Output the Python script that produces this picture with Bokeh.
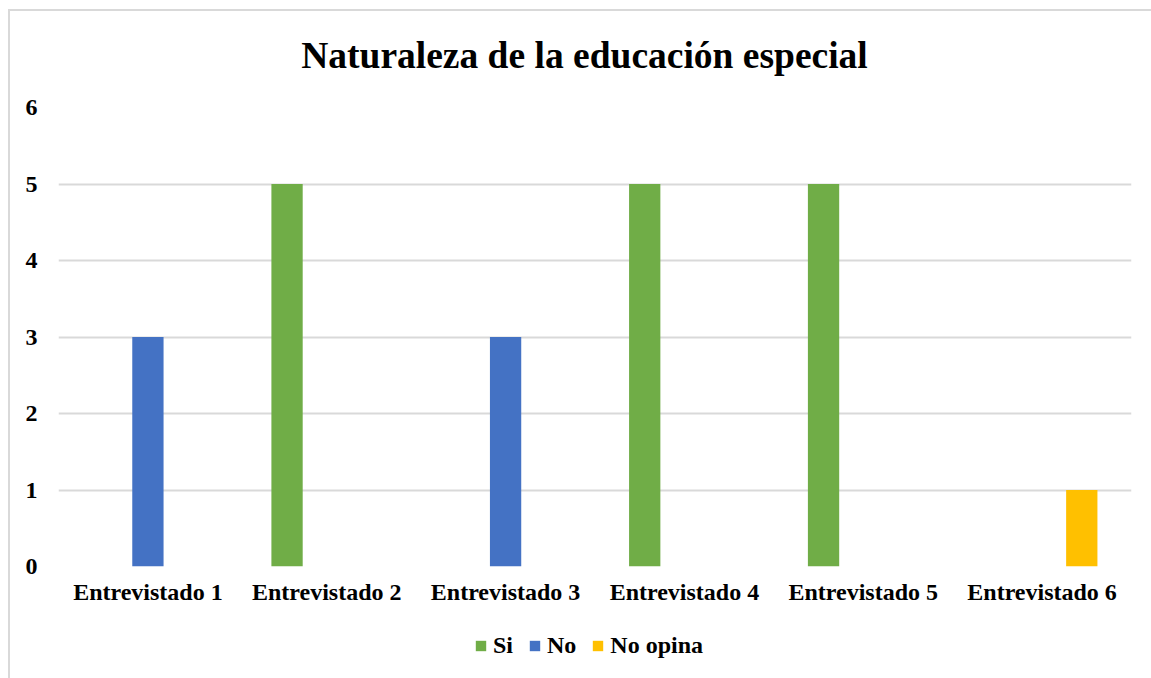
from bokeh.plotting import figure
from bokeh.models import FactorRange, Range1d, FixedTicker, Legend, LegendItem, Label
from bokeh.layouts import column
from bokeh.transform import dodge
from bokeh.embed import file_html
from bokeh.resources import INLINE

title_text = "Naturaleza de la educación especial"
categories = ["Entrevistado 1", "Entrevistado 2", "Entrevistado 3",
              "Entrevistado 4", "Entrevistado 5", "Entrevistado 6"]
si = [0, 5, 0, 5, 5, 0]
no = [3, 0, 3, 0, 0, 0]
no_opina = [0, 0, 0, 0, 0, 1]
y_ticks = [0, 1, 2, 3, 4, 5, 6]

series_names = ["Si", "No", "No opina"]
colors = ["#70AD47", "#4472C4", "#FFC000"]
offsets = [-0.222, 0.0, 0.222]

FONT = "Liberation Serif"
W = 1141


def strip(h):
    f = figure(width=W, height=h, output_backend="svg", toolbar_location=None,
               x_range=Range1d(0, 1), y_range=Range1d(0, 1),
               min_border=0, min_border_left=0, min_border_right=0,
               min_border_top=0, min_border_bottom=0)
    f.axis.visible = False
    f.grid.visible = False
    f.outline_line_color = None
    return f


# Title strip
tf = strip(75)
tf.add_layout(Label(x=526, y=31, x_units="screen", y_units="screen", text=title_text,
                    text_align="center", text_baseline="alphabetic",
                    text_font=FONT, text_font_size="37.5px", text_font_style="bold",
                    text_color="#000000"))

# Main chart
p = figure(x_range=FactorRange(*categories), y_range=Range1d(0, 6),
           width=W, height=525, output_backend="svg", toolbar_location=None,
           min_border_left=48, min_border_right=20, min_border_top=21,
           min_border_bottom=45)

data = dict(cat=categories, si=si, no=no, no_opina=no_opina)
keys = ["si", "no", "no_opina"]
for k, c, off in zip(keys, colors, offsets):
    p.vbar(x=dodge("cat", off, range=p.x_range), top=k, width=0.175,
           source=data, fill_color=c, line_color=None)

p.outline_line_color = None
p.xgrid.grid_line_color = None
p.ygrid.grid_line_color = "#d9d9d9"
p.ygrid.grid_line_width = 2

p.yaxis.ticker = FixedTicker(ticks=y_ticks)
p.yaxis.axis_line_color = None
p.yaxis.major_tick_line_color = None
p.yaxis.minor_tick_line_color = None
p.yaxis.major_label_text_font = FONT
p.yaxis.major_label_text_font_size = "24px"
p.yaxis.major_label_text_font_style = "bold"
p.yaxis.major_label_text_color = "#000000"
p.yaxis.major_label_standoff = 15

p.xaxis.axis_line_color = None
p.xaxis.major_tick_line_color = None
p.xaxis.minor_tick_line_color = None
p.xaxis.major_label_text_font = FONT
p.xaxis.major_label_text_font_size = "24px"
p.xaxis.major_label_text_font_style = "bold"
p.xaxis.major_label_text_color = "#000000"
p.xaxis.major_label_standoff = 6

# Legend strip below the chart (swatch renderers sit outside the strip's range)
lf = strip(67)
leg_renderers = [lf.vbar(x=[-10], top=[-10], width=0.1, fill_color=c, line_color=None)
                 for c in colors]
legend = Legend(items=[LegendItem(label=n, renderers=[r]) for n, r in zip(series_names, leg_renderers)],
                orientation="horizontal", location=(416, 19),
                glyph_width=13, glyph_height=13, label_standoff=6, spacing=15,
                padding=0, margin=0, border_line_color=None, background_fill_alpha=0,
                label_text_font=FONT, label_text_font_size="24px",
                label_text_font_style="bold", label_text_color="#000000")
lf.add_layout(legend, "center")

layout = column(tf, p, lf, spacing=0)
layout.styles = {"margin-left": "8px", "margin-top": "9px",
                 "border-left": "2px solid #d9d9d9", "border-top": "2px solid #d9d9d9"}

open("out.html", "w").write(file_html(layout, INLINE))
